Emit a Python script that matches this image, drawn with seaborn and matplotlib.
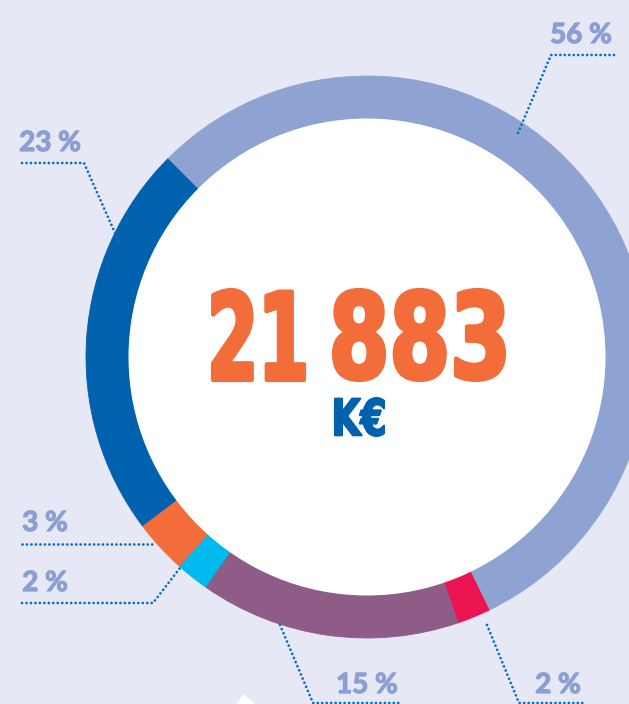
import matplotlib
matplotlib.use("Agg")
import matplotlib.pyplot as plt
import matplotlib.patheffects as pe
from matplotlib.patches import Circle, Polygon, PathPatch
from matplotlib.textpath import TextPath
from matplotlib.font_manager import FontProperties
from matplotlib.transforms import Affine2D
import seaborn as sns

# Shares of the total (read from the ring, counter-clockwise from upper left)
segments = ["Segment A", "Segment B", "Segment C", "Segment D", "Segment E", "Segment F"]
shares = [22.8, 3.1, 1.9, 15.0, 1.9, 55.3]
pct_labels = ["23 %", "3 %", "2 %", "15 %", "2 %", "56 %"]
colors = ["#0061AE", "#F26D3A", "#00B9EE", "#8E5C87", "#EA1550", "#8FA3D3"]

total_parts = ["21", "883"]   # 21 883
unit = "K€"

BG = "#E6E8F5"
LABEL_COLOR = "#8C9FD2"
LEADER_COLOR = "#0A6FC0"
W, H = 629, 704

# label text positions and leader lines, in image pixel coords (y down)
label_pos = [(50, 143), (45, 523), (45, 583), (367, 685), (558, 685), (581, 35)]
leaders = [
    [(22, 163), (84, 163), (119, 242)],
    [(22, 544), (153, 544)],
    [(22, 603), (153, 603), (180, 568)],
    [(280, 625), (313, 703), (400, 703)],
    [(487, 625), (519, 703), (583, 703)],
    [(614, 55), (551, 55), (518, 133)],
]
# boxes for the condensed centre text (x0, y0, x1, y1 in image px)
total_boxes = [(213, 290, 304, 380), (334, 290, 504, 380)]
unit_box = (335, 398, 384, 436)


def flip(pts):
    return [(x, H - y) for x, y in pts]


def condensed_text(ax, text, box, color, lw):
    # bold text squeezed into a box, for the condensed poster look
    path = TextPath((0, 0), text, size=100,
                    prop=FontProperties(family="DejaVu Sans", weight="bold"))
    ext = path.get_extents()
    x0, y0, x1, y1 = box
    sx = (x1 - x0) / ext.width
    sy = (y1 - y0) / ext.height
    tr = Affine2D().translate(-ext.x0, -ext.y0).scale(sx, sy).translate(x0, H - y1)
    ax.add_patch(PathPatch(tr.transform_path(path), facecolor=color, edgecolor=color,
                           linewidth=lw, joinstyle="round", zorder=5))


def main():
    sns.set_theme(style="white")
    plt.rcParams["font.family"] = ["Lato", "DejaVu Sans"]

    fig = plt.figure(figsize=(W / 100, H / 100), dpi=100, facecolor=BG)
    ax = fig.add_axes([0, 0, 1, 1])
    ax.set_facecolor(BG)

    cx, cy = 367, H - 357
    r_out, r_in = 281, 238

    wedges, _ = ax.pie(shares, colors=colors, startangle=135, counterclock=True,
                       center=(cx, cy), radius=r_out,
                       wedgeprops=dict(width=r_out - r_in, linewidth=0.6))
    for w, c in zip(wedges, colors):
        w.set_edgecolor(c)
    ax.add_patch(Circle((cx, cy), r_in + 0.5, facecolor="white", edgecolor="none", zorder=3))

    # dotted leader lines
    for pts in leaders:
        xs, ys = zip(*flip(pts))
        sns.lineplot(x=list(xs), y=list(ys), sort=False, ax=ax, color=LEADER_COLOR,
                     linewidth=2.0, linestyle=(0, (0.01, 1.6)), dash_capstyle="round",
                     estimator=None, zorder=4)

    for (x, y), txt in zip(label_pos, pct_labels):
        ax.text(x, H - y, txt, ha="center", va="center", fontsize=20,
                fontweight="bold", color=LABEL_COLOR, zorder=5,
                path_effects=[pe.withStroke(linewidth=0.9, foreground=LABEL_COLOR)])

    # centre total
    for txt, box in zip(total_parts, total_boxes):
        condensed_text(ax, txt, box, "#F26D3A", 3.0)
    condensed_text(ax, unit, unit_box, "#0061AE", 1.5)

    # small white shape peeking in at the bottom
    ax.add_patch(Polygon(flip([(243, 694), (236, 706), (258, 706)]),
                         closed=True, facecolor="white", edgecolor="none", zorder=2))

    ax.set_xlim(0, W)
    ax.set_ylim(0, H)
    ax.set_aspect("equal")
    ax.axis("off")
    fig.savefig("out.png", dpi=100, facecolor=BG)


if __name__ == "__main__":
    main()
